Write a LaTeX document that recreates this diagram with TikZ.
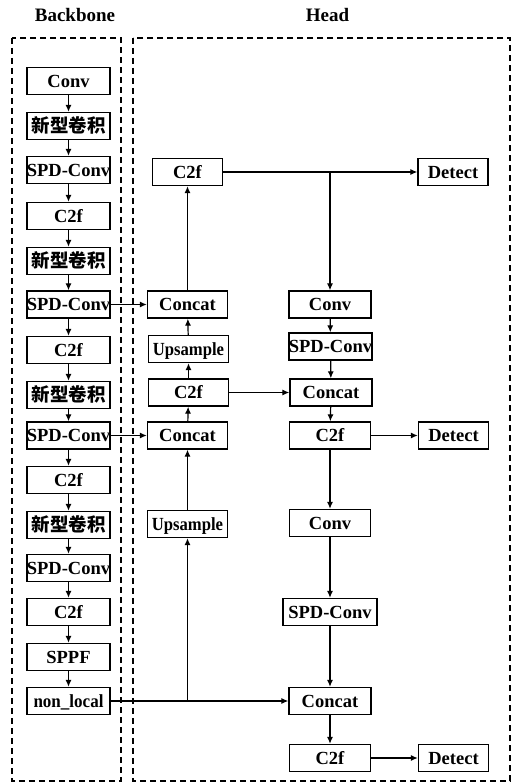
\documentclass[tikz,border=0pt]{standalone}
\usepackage{fontspec}
\usepackage{graphicx}
\setmainfont{Liberation Serif}
\newfontfamily\cjk{Noto Sans CJK SC}
\usetikzlibrary{arrows.meta}

\newcommand{\hsq}[2]{\scalebox{#1}[1]{#2}}
\newcommand{\xinjuan}{{\cjk\bfseries 新型卷积}}

\tikzset{
  blk/.style={draw, line width=1.3pt, rectangle, inner sep=0pt,
    minimum width=83pt, minimum height=27pt,
    font=\fontsize{18.5}{20}\selectfont\bfseries,
    text height=12.5pt, text depth=0pt},
  hblk/.style={blk, minimum width=80pt},
  dblk/.style={blk, minimum width=70pt},
  arr/.style={line width=1.2pt, -{Latex[length=7pt,width=6pt]}},
  frame/.style={line width=1.2pt, dash pattern=on 6pt off 4pt},
  ttl/.style={font=\fontsize{19}{21}\selectfont\bfseries, inner sep=0pt}
}

\begin{document}
\begin{tikzpicture}[x=1pt, y=-1pt]
\useasboundingbox (0,0) rectangle (522,784);

% titles and dashed frames
\node[ttl] (tbb) at (75,15) {Backbone};
\node[ttl] (thd) at (327.5,15) {Head};
\draw[frame] (12,38) rectangle (121,781);
\draw[frame] (133,38) rectangle (510,781);

% backbone column
\node[blk] (b1)  at (68.5,81)  {Conv};
\node[blk] (b2)  at (68.5,126) {\xinjuan};
\node[blk] (b3)  at (68.5,170) {SPD-Conv};
\node[blk] (b4)  at (68.5,216) {C2f};
\node[blk] (b5)  at (68.5,261) {\xinjuan};
\node[blk] (b6)  at (68.5,304.5) {SPD-Conv};
\node[blk] (b7)  at (68.5,350) {C2f};
\node[blk] (b8)  at (68.5,395) {\xinjuan};
\node[blk] (b9)  at (68.5,435.5) {SPD-Conv};
\node[blk] (b10) at (68.5,480) {C2f};
\node[blk] (b11) at (68.5,525) {\xinjuan};
\node[blk] (b12) at (68.5,568) {SPD-Conv};
\node[blk] (b13) at (68.5,612) {C2f};
\node[blk] (b14) at (68.5,657) {SPPF};
\node[blk] (b15) at (68.5,701) {\hsq{0.92}{non\_local}};

\foreach \i [evaluate=\i as \j using int(\i+1)] in {1,...,14}
  \draw[arr] (b\i) -- (b\j);

% head, upsampling path
\node[blk, minimum width=70pt] (h1) at (187.5,172) {C2f};
\node[hblk] (h2) at (187.5,304.5) {Concat};
\node[hblk] (h3) at (188.5,349) {\hsq{0.9}{Upsample}};
\node[hblk] (h4) at (188.5,392.5) {C2f};
\node[hblk] (h5) at (187.5,435.5) {Concat};
\node[hblk] (h6) at (187.5,524) {\hsq{0.9}{Upsample}};

% head, downsampling path
\node[blk, minimum width=82pt] (g1) at (330,304.5) {Conv};
\node[blk] (g2) at (330.5,346.5) {SPD-Conv};
\node[blk, minimum width=82pt] (g3) at (331,392.5) {Concat};
\node[blk, minimum width=81pt] (g4) at (330,435.5) {C2f};
\node[blk, minimum width=81pt] (g5) at (330,523) {Conv};
\node[blk, minimum width=94pt] (g6) at (330,612) {SPD-Conv};
\node[blk, minimum width=82pt] (g7) at (330,701) {Concat};
\node[blk, minimum width=81pt] (g8) at (330,758) {C2f};

% detection heads
\node[dblk] (d1) at (453,172) {Detect};
\node[dblk] (d2) at (453.5,435.5) {Detect};
\node[dblk] (d3) at (453.5,758) {Detect};

% backbone to head
\draw[arr] (b6) -- (h2);
\draw[arr] (b9) -- (h5);
\draw[arr] (b15) -- (g7);
\draw[arr] (b15.east -| h6.south) -- (h6);

% upsampling path
\draw[arr] (h6) -- (h5);
\draw[arr] (h5) -- (h4);
\draw[arr] (h4) -- (h3);
\draw[arr] (h3) -- (h2);
\draw[arr] (h2) -- (h1);
\draw[arr] (h1) -- (d1);
\draw[arr] (h1.east -| g1.north) -- (g1);
\draw[arr] (h4) -- (g3);

% downsampling path
\draw[arr] (g1) -- (g2);
\draw[arr] (g2) -- (g3);
\draw[arr] (g3) -- (g4);
\draw[arr] (g4) -- (d2);
\draw[arr] (g4) -- (g5);
\draw[arr] (g5) -- (g6);
\draw[arr] (g6) -- (g7);
\draw[arr] (g7) -- (g8);
\draw[arr] (g8) -- (d3);
\end{tikzpicture}
\end{document}
